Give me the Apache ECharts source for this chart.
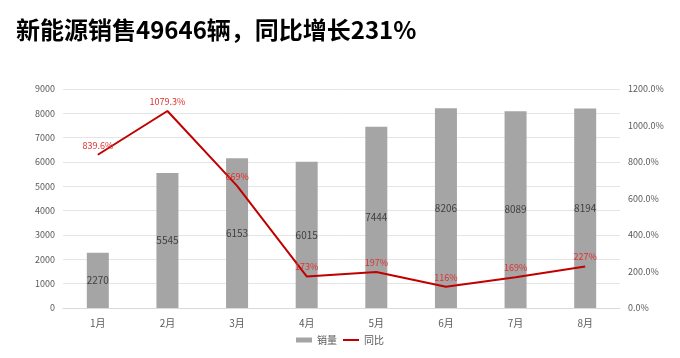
<!DOCTYPE html>
<html><head><meta charset="utf-8">
<script src="https://cdn.jsdelivr.net/npm/echarts@6/dist/echarts.min.js"></script>
<style>html,body{margin:0;padding:0;background:#fff}#c{width:680px;height:358px}</style>
</head><body><div id="c"></div>
<script>
const categories = ['1月','2月','3月','4月','5月','6月','7月','8月'];
const sales = [2270, 5545, 6153, 6015, 7444, 8206, 8089, 8194];
const yoy = [839.6, 1079.3, 669, 173, 197, 116, 169, 227];
const yoyLabels = ['839.6%','1079.3%','669%','173%','197%','116%','169%','227%'];
const titleText = '新能源销售49646辆，同比增长231%';

const chart = echarts.init(document.getElementById('c'));
const font = '"Microsoft YaHei","Noto Sans CJK SC",sans-serif';
chart.setOption({
  animation: false,
  title: { text: titleText, left: 11, top: 13,
    textStyle: { fontSize: 24, fontWeight: 'bold', color: '#000', fontFamily: font } },
  legend: { bottom: 8, left: 'center', itemWidth: 16, itemHeight: 5, itemGap: 6,
    textStyle: { color: '#595959', fontSize: 10, fontFamily: font },
    data: [{ name: '销量', icon: 'rect' }, { name: '同比', icon: 'path://M0,0H16V2H0Z' }] },
  grid: { left: 63, right: 60, top: 89, bottom: 50 },
  xAxis: { type: 'category', data: categories,
    axisLine: { lineStyle: { color: '#D9D9D9' } }, axisTick: { show: false },
    axisLabel: { color: '#595959', fontSize: 10, margin: 10, fontFamily: font } },
  yAxis: [
    { type: 'value', min: 0, max: 9000, interval: 1000,
      axisLine: { show: false }, axisTick: { show: false },
      axisLabel: { color: '#595959', fontSize: 9, margin: 8, fontFamily: font, formatter: v => String(v) },
      splitLine: { lineStyle: { color: '#E5E5E5' } } },
    { type: 'value', min: 0, max: 1200, interval: 200,
      axisLine: { show: false }, axisTick: { show: false }, splitLine: { show: false },
      axisLabel: { color: '#595959', fontSize: 9, margin: 8, fontFamily: font,
        formatter: v => v.toFixed(1) + '%' } }
  ],
  series: [
    { name: '销量', type: 'bar', data: sales, barWidth: 22, itemStyle: { color: '#A5A5A5' },
      label: { show: true, position: 'inside', color: '#404040', fontSize: 10, fontFamily: font } },
    { name: '同比', type: 'line', yAxisIndex: 1, data: yoy, symbol: 'circle', symbolSize: 0.01,
      lineStyle: { color: '#C00000', width: 2 }, itemStyle: { color: '#C00000' },
      label: { show: true, position: 'top', distance: 5, color: '#E03030', fontSize: 9, fontFamily: font,
        formatter: p => yoyLabels[p.dataIndex] } }
  ]
});
</script></body></html>
